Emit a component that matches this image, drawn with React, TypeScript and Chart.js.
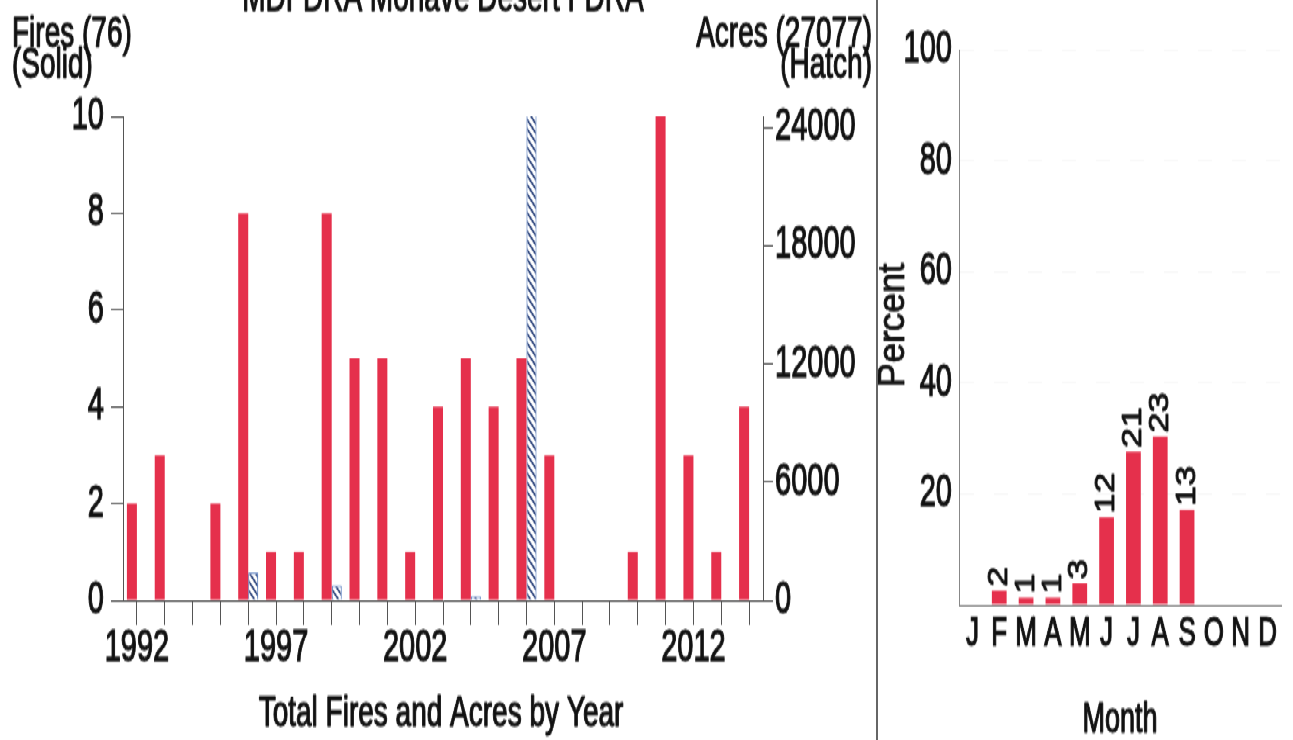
import { useEffect, useRef } from 'react';
import { Chart, registerables } from 'chart.js';

Chart.register(...registerables);

// ---------- data ----------
const YEARS = ['1992', '1993', '1994', '1995', '1996', '1997', '1998', '1999', '2000', '2001', '2002', '2003', '2004', '2005', '2006', '2007', '2008', '2009', '2010', '2011', '2012', '2013', '2014'];
const FIRES = [2, 3, 0, 2, 8, 1, 1, 8, 5, 5, 1, 4, 5, 4, 5, 3, 0, 0, 1, 10, 3, 1, 4];
const ACRES = [0, 0, 0, 0, 1400, 0, 0, 750, 0, 0, 0, 0, 200, 0, 24727, 0, 0, 0, 0, 0, 0, 0, 0];
const FIRES_MAX = 10;
const FIRES_STEP = 2;
const ACRES_MAX = 24560;
const ACRES_TICKS = [0, 6000, 12000, 18000, 24000];
const YEAR_LABEL_EVERY = 5;

const MONTHS = ['J', 'F', 'M', 'A', 'M', 'J', 'J', 'A', 'S', 'O', 'N', 'D'];
const MONTH_PERCENT = [0, 2.6, 1.3, 1.3, 3.9, 15.8, 27.6, 30.3, 17.1, 0, 0, 0];
const MONTH_COUNTS = [0, 2, 1, 1, 3, 12, 21, 23, 13, 0, 0, 0];

const TITLE = 'MDFDRA Mohave Desert FDRA';
const FIRES_LABEL = ['Fires (76)', '(Solid)'];
const ACRES_LABEL = ['Acres (27077)', '(Hatch)'];
const YEAR_TITLE = 'Total Fires and Acres by Year';
const MONTH_TITLE = 'Month';
const PERCENT_TITLE = 'Percent';

// ---------- layout / style ----------
const W = 1293;
const H = 740;
const CH = 477; // canvas drawing height (stretched vertically to H)
const S = H / CH;
const LEFT_W = 877;
const RIGHT_W = W - LEFT_W;
const FONT = '"Liberation Sans", Arial, Helvetica, sans-serif';
const RED = '#e5304c';
const AXIS = '#555';
const TEXT = '#111';
const STROKE = 0.9;

function makeHatch(): CanvasPattern | string {
  const n = 6;
  const c = document.createElement('canvas');
  c.width = n;
  c.height = n;
  const g = c.getContext('2d');
  if (!g) return '#fff';
  g.fillStyle = '#ffffff';
  g.fillRect(0, 0, n, n);
  g.strokeStyle = '#1d3673';
  g.lineWidth = 1.45;
  for (const o of [-n, 0, n]) {
    g.beginPath();
    g.moveTo(o - 1, -1);
    g.lineTo(o + n + 1, n + 1);
    g.stroke();
  }
  return g.createPattern(c, 'repeat') || '#fff';
}

function drawText(ctx: CanvasRenderingContext2D, s: string, x: number, y: number) {
  ctx.lineWidth = STROKE;
  ctx.strokeStyle = TEXT;
  ctx.lineJoin = 'round';
  ctx.strokeText(s, x, y);
  ctx.fillText(s, x, y);
}

const leftTextPlugin = {
  id: 'leftText',
  afterDraw(chart: any) {
    const ctx: CanvasRenderingContext2D = chart.ctx;
    const ca = chart.chartArea;
    ctx.save();
    ctx.fillStyle = TEXT;
    ctx.font = `28px ${FONT}`;
    ctx.textBaseline = 'alphabetic';
    ctx.textAlign = 'center';
    drawText(ctx, TITLE, 443, 7);
    drawText(ctx, YEAR_TITLE, (ca.left + ca.right) / 2 - 2, 468);
    ctx.textAlign = 'left';
    drawText(ctx, FIRES_LABEL[0], 12, 30);
    drawText(ctx, FIRES_LABEL[1], 12, 50);
    ctx.textAlign = 'right';
    drawText(ctx, ACRES_LABEL[0], 872, 30);
    drawText(ctx, ACRES_LABEL[1], 872, 50);
    ctx.restore();
  },
};

const rightTextPlugin = {
  id: 'rightText',
  afterDatasetsDraw(chart: any) {
    const ctx: CanvasRenderingContext2D = chart.ctx;
    const meta = chart.getDatasetMeta(0);
    ctx.save();
    ctx.fillStyle = TEXT;
    ctx.font = `28px ${FONT}`;
    ctx.textAlign = 'left';
    ctx.textBaseline = 'middle';
    meta.data.forEach((bar: any, i: number) => {
      const n = MONTH_COUNTS[i];
      if (!n) return;
      ctx.save();
      ctx.translate(bar.x, bar.y - 2.5);
      ctx.scale(1, 0.84);
      ctx.rotate(-Math.PI / 2);
      drawText(ctx, String(n), 0, 0);
      ctx.restore();
    });
    ctx.restore();
  },
  afterDraw(chart: any) {
    const ctx: CanvasRenderingContext2D = chart.ctx;
    const ca = chart.chartArea;
    ctx.save();
    ctx.fillStyle = TEXT;
    ctx.font = `27px ${FONT}`;
    ctx.textAlign = 'center';
    ctx.textBaseline = 'alphabetic';
    drawText(ctx, MONTH_TITLE, (ca.left + ca.right) / 2, 472);
    ctx.translate(17.5, 209.5);
    ctx.scale(1, 1 / S);
    ctx.rotate(-Math.PI / 2);
    ctx.font = `36px ${FONT}`;
    ctx.textBaseline = 'middle';
    drawText(ctx, PERCENT_TITLE, 0, 0);
    ctx.restore();
  },
};

export default function App() {
  const leftRef = useRef<HTMLCanvasElement | null>(null);
  const rightRef = useRef<HTMLCanvasElement | null>(null);

  useEffect(() => {
    if (!leftRef.current || !rightRef.current) return;
    const hatch = makeHatch();
    const tickFont = { family: FONT, size: 29 };
    const tickStroke = { textStrokeColor: TEXT, textStrokeWidth: STROKE };

    const left = new Chart(leftRef.current, {
      type: 'bar',
      data: {
        labels: YEARS,
        datasets: [
          {
            label: 'Fires',
            data: FIRES,
            backgroundColor: RED,
            borderWidth: 0,
            yAxisID: 'y',
            categoryPercentage: 0.72,
            barPercentage: 1,
          },
          {
            label: 'Acres',
            data: ACRES,
            backgroundColor: hatch as any,
            borderColor: '#3462b2',
            borderWidth: 1,
            yAxisID: 'y1',
            categoryPercentage: 0.72,
            barPercentage: 1,
          },
        ],
      },
      options: {
        responsive: false,
        animation: false,
        devicePixelRatio: 1,
        layout: { padding: { top: 75, left: 0, right: 0, bottom: 0 } },
        plugins: { legend: { display: false }, tooltip: { enabled: false }, title: { display: false } },
        scales: {
          x: {
            offset: true,
            grid: { offset: false, drawOnChartArea: false, drawTicks: true, tickLength: 16, color: AXIS },
            border: { display: true, color: AXIS, width: 1 },
            ticks: {
              autoSkip: false,
              maxRotation: 0,
              minRotation: 0,
              padding: 0,
              color: TEXT,
              ...tickStroke,
              font: { ...tickFont, lineHeight: 1 },
              callback: (_v: any, i: number) => (i % YEAR_LABEL_EVERY === 0 ? YEARS[i] : ''),
            },
            afterFit: (s: any) => {
              s.height = CH - 387;
            },
          },
          y: {
            position: 'left',
            min: 0,
            max: FIRES_MAX,
            grid: { drawOnChartArea: false, drawTicks: true, tickLength: 12, color: AXIS },
            border: { display: true, color: AXIS, width: 1 },
            ticks: { stepSize: FIRES_STEP, padding: 7, color: TEXT, ...tickStroke, font: tickFont },
            afterFit: (s: any) => {
              s.width = 123;
            },
          },
          y1: {
            position: 'right',
            min: 0,
            max: ACRES_MAX,
            grid: { drawOnChartArea: false, drawTicks: true, tickLength: 10, color: AXIS },
            border: { display: true, color: AXIS, width: 1 },
            afterBuildTicks: (s: any) => {
              s.ticks = ACRES_TICKS.map((v) => ({ value: v }));
            },
            ticks: {
              padding: 2,
              color: TEXT,
              ...tickStroke,
              font: tickFont,
              callback: (v: any) => String(v),
            },
            afterFit: (s: any) => {
              s.width = LEFT_W - 763;
            },
          },
        },
      },
      plugins: [leftTextPlugin],
    } as any);

    const right = new Chart(rightRef.current, {
      type: 'bar',
      data: {
        labels: MONTHS,
        datasets: [
          {
            label: 'Percent',
            data: MONTH_PERCENT,
            backgroundColor: RED,
            borderWidth: 0,
            categoryPercentage: 0.55,
            barPercentage: 1,
          },
        ],
      },
      options: {
        responsive: false,
        animation: false,
        devicePixelRatio: 1,
        layout: { padding: { top: 32, left: 0, right: 12, bottom: 0 } },
        plugins: { legend: { display: false }, tooltip: { enabled: false }, title: { display: false } },
        scales: {
          x: {
            grid: { display: false, drawTicks: false },
            border: { display: true, color: '#888', width: 1 },
            ticks: {
              autoSkip: false,
              maxRotation: 0,
              minRotation: 0,
              padding: 3,
              color: TEXT,
              ...tickStroke,
              font: { family: FONT, size: 26 },
            },
            afterFit: (s: any) => {
              s.height = CH - 390;
            },
          },
          y: {
            min: 0,
            max: 100,
            grid: { drawOnChartArea: true, drawTicks: false, color: 'rgba(0,0,0,0.035)' },
            border: { display: true, color: '#888', width: 1, dash: [14, 20] },
            ticks: {
              stepSize: 10,
              padding: 7,
              color: TEXT,
              ...tickStroke,
              font: tickFont,
              callback: (v: any) => (v % 20 === 0 && v !== 0 ? String(v) : ''),
            },
            afterFit: (s: any) => {
              s.width = 82;
            },
          },
        },
      },
      plugins: [rightTextPlugin],
    } as any);

    return () => {
      left.destroy();
      right.destroy();
    };
  }, []);

  return (
    <div
      style={{
        position: 'fixed',
        left: 0,
        top: 0,
        width: W,
        height: H,
        overflow: 'hidden',
        background: '#ffffff',
      }}
    >
      <div
        style={{
          position: 'absolute',
          left: 0,
          top: 0,
          width: W,
          height: CH,
          transform: `scaleY(${S})`,
          transformOrigin: '0 0',
        }}
      >
        <canvas
          ref={leftRef}
          width={LEFT_W}
          height={CH}
          style={{ position: 'absolute', left: 0, top: 0, width: LEFT_W, height: CH }}
        />
        <canvas
          ref={rightRef}
          width={RIGHT_W}
          height={CH}
          style={{ position: 'absolute', left: LEFT_W, top: 0, width: RIGHT_W, height: CH }}
        />
      </div>
      <div style={{ position: 'absolute', left: 876, top: 0, width: 2, height: H, background: '#666' }} />
    </div>
  );
}
